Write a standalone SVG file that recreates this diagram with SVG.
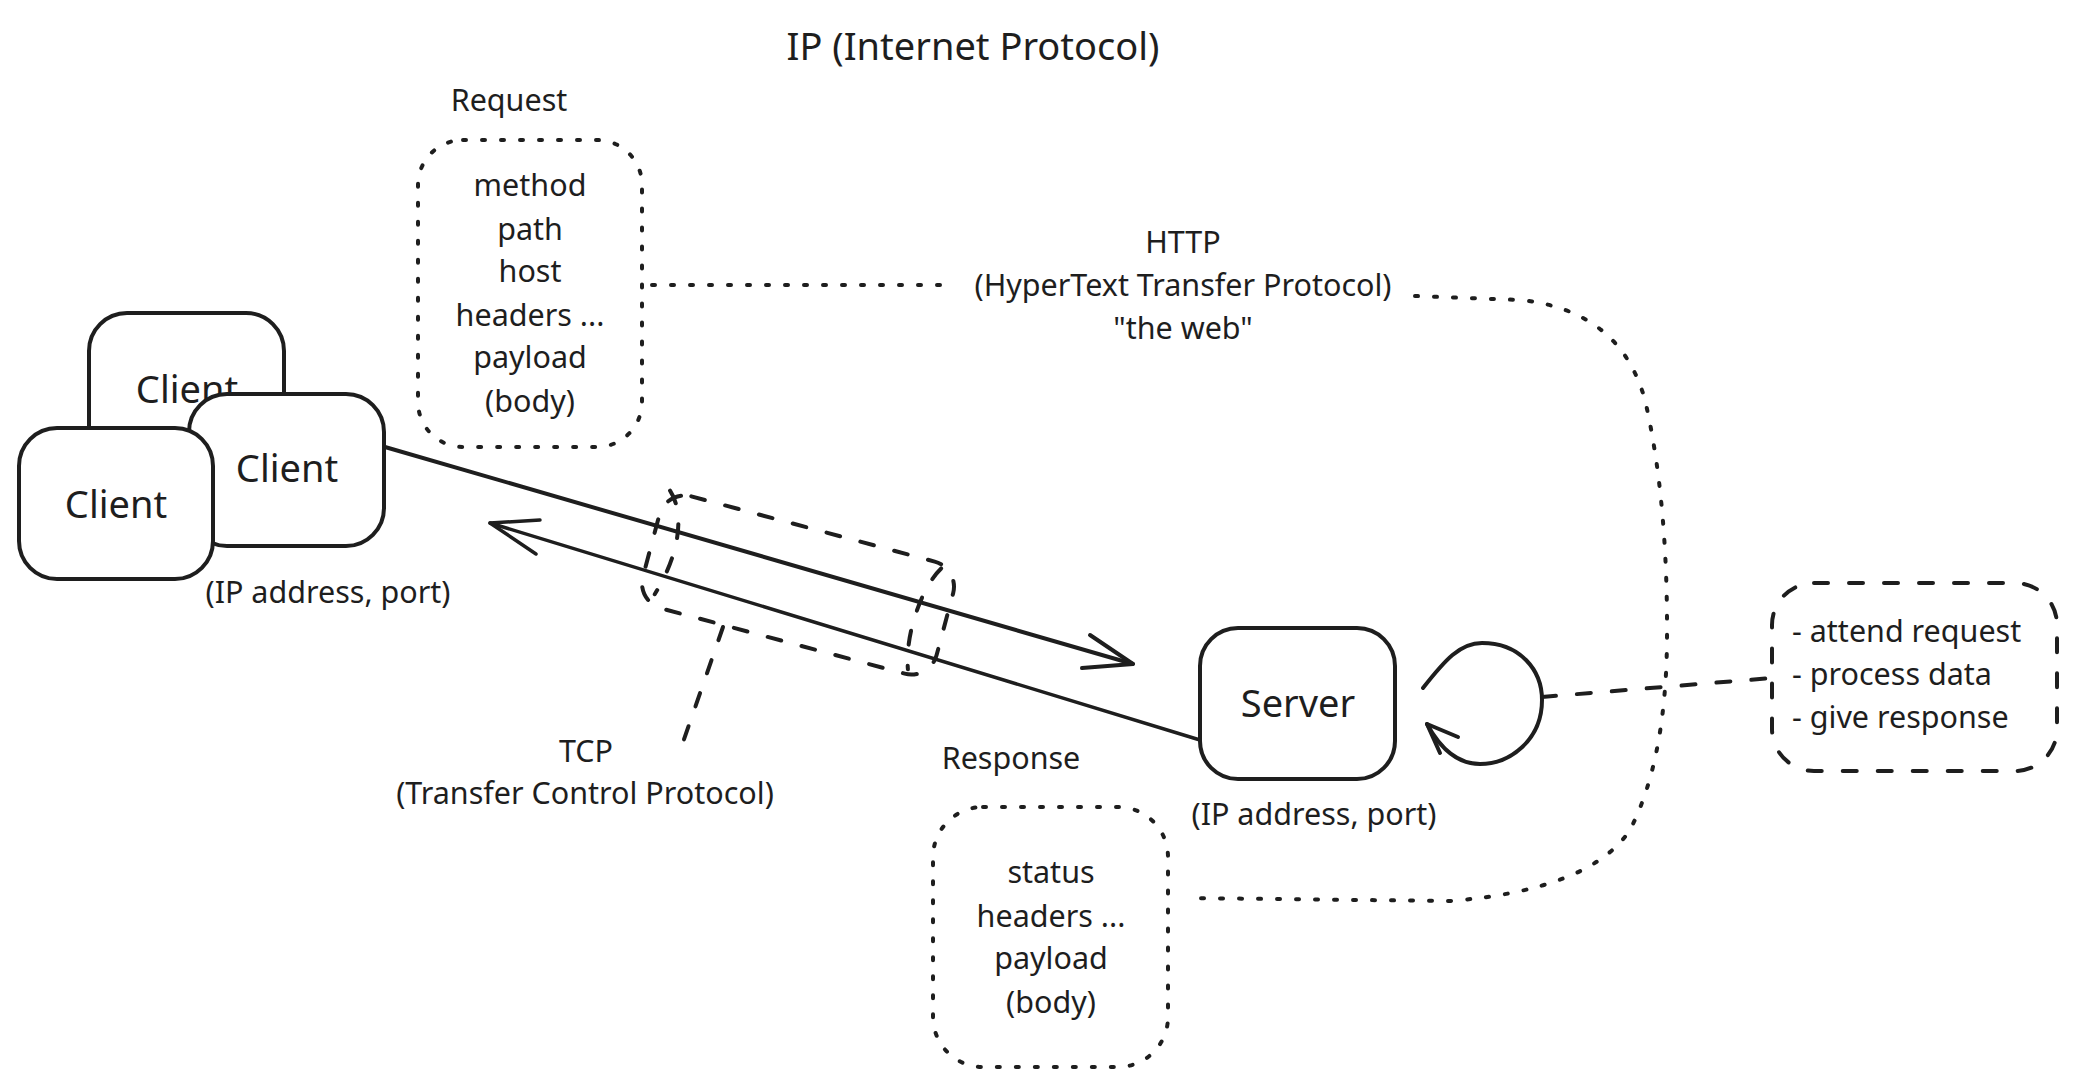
<svg xmlns="http://www.w3.org/2000/svg" width="2075" height="1087" viewBox="0 0 2075 1087">
<style>
.t{font-family:"Noto Sans","Open Sans",sans-serif;fill:#1e1e1e}
.s{font-size:30.5px}
.l{font-size:38px}
.m{text-anchor:middle}
.box{fill:#fff;stroke:#1e1e1e;stroke-width:4}
.dot{fill:none;stroke:#1e1e1e;stroke-width:4;stroke-linecap:round;stroke-dasharray:3 16}
.dash{fill:none;stroke:#1e1e1e;stroke-width:4;stroke-linecap:round;stroke-dasharray:14 21}
.ln{fill:none;stroke:#1e1e1e;stroke-width:4;stroke-linecap:round;stroke-linejoin:round}
</style>
<rect width="2075" height="1087" fill="#fff"/>

<g id="title"><text class="t l m" x="973" y="60">IP (Internet Protocol)</text></g>

<g id="client-back">
<rect class="box" x="89" y="313" width="195" height="152" rx="38"/>
<text class="t l m" x="187" y="403">Client</text>
</g>
<g id="client-right">
<rect class="box" x="189" y="394" width="195" height="152" rx="38"/>
<text class="t l m" x="287" y="482">Client</text>
</g>
<g id="client-front">
<rect class="box" x="19" y="428" width="194" height="151" rx="38"/>
<text class="t l m" x="116" y="518">Client</text>
</g>
<g id="client-address"><text class="t s m" x="328" y="603">(IP address, port)</text></g>

<g id="request">
<text class="t s m" x="509" y="111">Request</text>
<rect class="dot" x="418" y="140" width="224" height="307" rx="45"/>
<text class="t s m" x="530" y="196">method</text>
<text class="t s m" x="530" y="240">path</text>
<text class="t s m" x="530" y="282">host</text>
<text class="t s m" x="530" y="326">headers ...</text>
<text class="t s m" x="530" y="368">payload</text>
<text class="t s m" x="530" y="412">(body)</text>
</g>

<g id="http">
<text class="t s m" x="1183" y="253">HTTP</text>
<text class="t s m" x="1183" y="296">(HyperText Transfer Protocol)</text>
<text class="t s m" x="1183" y="339">"the web"</text>
</g>

<g id="tcp">
<g transform="translate(798 585) rotate(15)">
<rect class="dash" x="-152" y="-58" width="304" height="116" rx="26"/>
<path class="dash" d="M -148 -58 C -128 -40 -122 0 -136 46"/>
<path class="dash" d="M 134 -53 C 120 -30 116 20 128 53"/>
</g>
</g>
<g id="tcp-label">
<text class="t s m" x="586" y="762">TCP</text>
<text class="t s m" x="585" y="804">(Transfer Control Protocol)</text>
</g>

<g id="server">
<rect class="box" x="1200" y="628" width="195" height="151" rx="38"/>
<text class="t l m" x="1298" y="717">Server</text>
</g>
<g id="server-address"><text class="t s m" x="1314" y="825">(IP address, port)</text></g>

<g id="response">
<text class="t s m" x="1011" y="769">Response</text>
<rect class="dot" x="933" y="807" width="235" height="260" rx="50"/>
<text class="t s m" x="1051" y="883">status</text>
<text class="t s m" x="1051" y="927">headers ...</text>
<text class="t s m" x="1051" y="969">payload</text>
<text class="t s m" x="1051" y="1013">(body)</text>
</g>

<g id="tasks">
<rect class="dash" x="1772" y="583" width="285" height="188" rx="42"/>
<text class="t s" x="1792" y="642">- attend request</text>
<text class="t s" x="1792" y="685">- process data</text>
<text class="t s" x="1792" y="728">- give response</text>
</g>

<g id="connectors">
<path class="ln" d="M 385 447 L 1133 664"/>
<path class="ln" d="M 1090 635 L 1133 664 L 1082 668"/>
<path class="ln" style="stroke-width:3.5" d="M 1200 740 L 490 523"/>
<path class="ln" style="stroke-width:3.5" d="M 540 520 L 490 523 L 536 554"/>
<path class="ln" d="M 1423 688 C 1445 660 1460 643 1482 643 C 1520 643 1542 670 1542 700 C 1542 740 1510 764 1480 764 C 1458 764 1440 748 1427 724"/>
<path class="ln" d="M 1458 737 L 1427 724 L 1440 753"/>
<path class="dash" d="M 1542 697 L 1772 678"/>
<path class="dash" d="M 723 627 L 681 748"/>
<path class="dot" d="M 652 285 L 945 285"/>
<path class="dot" d="M 1415 296 L 1520 300 Q 1620 310 1645 400 Q 1668 500 1667 640 Q 1666 760 1630 830 Q 1590 890 1450 901 L 1186 898"/>
</g>
</svg>
